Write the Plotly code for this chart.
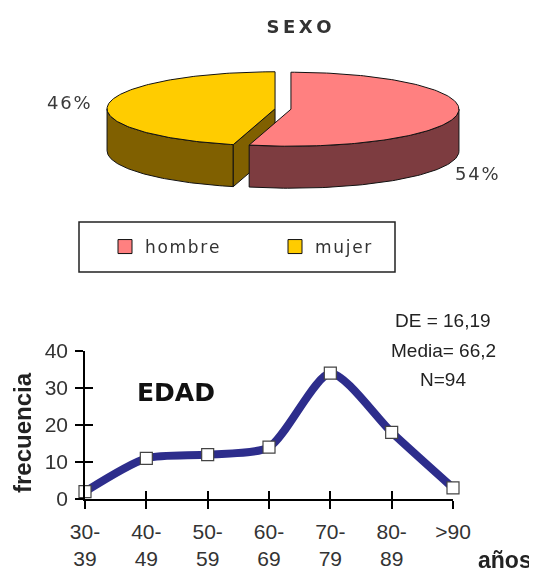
import numpy as np
import plotly.graph_objects as go

W, H = 537, 574
OFF = 8                      # the page body margin: the figure starts 8 px in
FW, FH = W - OFF, H - OFF

# ---------------- data ----------------
sexo_labels = ["hombre", "mujer"]
sexo_pct = [54, 46]
sexo_top_colors = ["#FF8080", "#FFCC00"]
sexo_side_colors = ["#7D3C40", "#806000"]

edad_cats = ["30-<br>39", "40-<br>49", "50-<br>59", "60-<br>69", "70-<br>79", "80-<br>89", ">90"]
edad_freq = [2, 11, 12, 14, 34, 18, 3]
y_ticks = [0, 10, 20, 30, 40]
stats_lines = ["DE = 16,19", "Media= 66,2", "N=94"]


def px(x):
    return (x - OFF) / FW


def py(y):
    return 1 - (y - OFF) / FH


# ---------------- pie geometry (page-pixel units on a hidden full-page axis) ----------------
CX, CY, A, B, DEPTH, EXPL = 283, 109, 168, 37, 42, 8


def rim(t_deg, ox, oy, dz=0.0):
    t = np.radians(t_deg)
    return ox + A * np.sin(t), oy - B * np.cos(t) + dz


def spaced(s, sep="\u200a"):
    return sep.join(list(s))


slices = []
start = 0.0
for lab, pct, ct, cs in zip(sexo_labels, sexo_pct, sexo_top_colors, sexo_side_colors):
    t1, t2 = start, start + pct / 100 * 360
    mid = np.radians((t1 + t2) / 2)
    ox = CX + EXPL * np.sin(mid)
    oy = CY - EXPL * np.cos(mid) * B / A
    slices.append(dict(lab=lab, t1=t1, t2=t2, ox=ox, oy=oy, ct=ct, cs=cs))
    start = t2

fig = go.Figure()
OUT = dict(color="#111111", width=1)


def poly(xs, ys, color):
    fig.add_trace(go.Scatter(x=xs, y=ys, mode="lines", fill="toself", fillcolor=color,
                             line=OUT, xaxis="x3", yaxis="y3", showlegend=False,
                             hoverinfo="skip"))


# sides and cut faces (left slice first so the right one overlaps it)
for s in sorted(slices, key=lambda d: d["ox"]):
    lo, hi = max(s["t1"], 90), min(s["t2"], 270)
    if lo < hi:
        ts = np.linspace(lo, hi, 80)
        xt, yt = rim(ts, s["ox"], s["oy"])
        xb, yb = rim(ts[::-1], s["ox"], s["oy"], DEPTH)
        poly(list(xt) + list(xb) + [xt[0]], list(yt) + list(yb) + [yt[0]], s["cs"])
    for t, visible in ((s["t1"], np.sin(np.radians(s["t1"])) < -1e-6),
                       (s["t2"], np.sin(np.radians(s["t2"])) > 1e-6)):
        if visible and 0 < t < 360:
            rx, ry = rim(t, s["ox"], s["oy"])
            xs = [s["ox"], rx, rx, s["ox"], s["ox"]]
            ys = [s["oy"], ry, ry + DEPTH, s["oy"] + DEPTH, s["oy"]]
            poly(xs, ys, s["cs"])

# top faces
for s in slices:
    ts = np.linspace(s["t1"], s["t2"], 160)
    xr, yr = rim(ts, s["ox"], s["oy"])
    poly([s["ox"]] + list(xr) + [s["ox"]], [s["oy"]] + list(yr) + [s["oy"]], s["ct"])

# legend entries
for lab, ct in zip(sexo_labels, sexo_top_colors):
    fig.add_trace(go.Scatter(x=[None], y=[None], mode="markers", name=spaced(lab),
                             marker=dict(symbol="square", size=14, color=ct,
                                         line=dict(color="#111111", width=1)),
                             xaxis="x3", yaxis="y3", showlegend=True))

# ---------------- EDAD line chart ----------------
fig.add_trace(go.Scatter(x=edad_cats, y=edad_freq, mode="lines+markers",
                         line=dict(color="#2D2D8C", width=8, shape="spline", smoothing=0.7),
                         marker=dict(symbol="square", size=12, color="white",
                                     line=dict(color="#444444", width=1.2)),
                         cliponaxis=False, showlegend=False, xaxis="x", yaxis="y"))
fig.add_trace(go.Scatter(x=edad_cats, y=edad_freq, mode="markers", opacity=0,
                         showlegend=False, hoverinfo="skip", xaxis="x2", yaxis="y2"))

TICKFONT = dict(family="Liberation Sans, Arial, sans-serif", size=21, color="#333333")

fig.update_layout(
    width=FW, height=FH,
    margin=dict(l=0, r=0, t=0, b=0),
    paper_bgcolor="white", plot_bgcolor="rgba(0,0,0,0)",
    title=dict(text="<b>" + spaced("SEXO", "\u2009") + "</b>", x=px(299), y=py(27),
               xanchor="center", yanchor="middle",
               font=dict(family="DejaVu Sans", size=18, color="#333333")),
    xaxis=dict(domain=[px(85), px(453)], type="category", range=[0, 6], anchor="y",
               showline=True, linecolor="black", linewidth=1.5,
               ticks="outside", ticklen=8, tickwidth=1.5, tickcolor="black",
               tickfont=TICKFONT, ticklabelstandoff=5,
               showgrid=False, zeroline=False, fixedrange=True, automargin=False),
    yaxis=dict(domain=[py(499), py(351)], range=[0, 40], tickvals=y_ticks, anchor="x",
               showline=True, linecolor="black", linewidth=1.5,
               ticks="outside", ticklen=8, tickwidth=1.5, tickcolor="black",
               tickfont=TICKFONT, ticklabelstandoff=3,
               showgrid=False, zeroline=False, fixedrange=True, automargin=False),
    xaxis2=dict(overlaying="x", type="category", range=[0, 6], anchor="y2",
                ticks="inside", ticklen=8, tickwidth=1.5, tickcolor="black",
                showticklabels=False, showline=False, showgrid=False, zeroline=False,
                fixedrange=True),
    yaxis2=dict(overlaying="y", range=[0, 40], tickvals=y_ticks, anchor="x2",
                ticks="inside", ticklen=8, tickwidth=1.5, tickcolor="black",
                showticklabels=False, showline=False, showgrid=False, zeroline=False,
                fixedrange=True),
    xaxis3=dict(domain=[0, 1], range=[OFF, W], anchor="y3", visible=False, fixedrange=True),
    yaxis3=dict(domain=[0, 1], range=[H, OFF], anchor="x3", visible=False, fixedrange=True),
    legend=dict(orientation="h", x=px(105), y=py(247), xanchor="left", yanchor="middle",
                bgcolor="rgba(0,0,0,0)", borderwidth=0,
                entrywidth=125, entrywidthmode="pixels",
                font=dict(family="DejaVu Sans", size=17, color="#333333")),
    shapes=[dict(type="rect", xref="paper", yref="paper",
                 x0=px(79), x1=px(395), y0=py(272), y1=py(222),
                 line=dict(color="#222222", width=1.5), fillcolor="rgba(0,0,0,0)")],
    showlegend=True,
)

ann = []
ann.append(dict(text=spaced(f"{sexo_pct[1]}%"), x=px(69), y=py(103)))
ann.append(dict(text=spaced(f"{sexo_pct[0]}%"), x=px(477), y=py(173)))
for a in ann:
    a.update(xref="paper", yref="paper", showarrow=False, xanchor="center", yanchor="middle",
             font=dict(family="DejaVu Sans", size=18, color="#3A3A3A"))

ann.append(dict(text="<b>frecuencia</b>", x=px(22), y=py(433), xref="paper", yref="paper",
                showarrow=False, textangle=-90, xanchor="center", yanchor="middle",
                font=dict(family="Liberation Sans", size=24, color="#222222")))
ann.append(dict(text="<b>EDAD</b>", x=px(176), y=py(393), xref="paper", yref="paper",
                showarrow=False, xanchor="center", yanchor="middle",
                font=dict(family="DejaVu Sans", size=25, color="#111111")))
for txt, yy in zip(stats_lines, [320, 350, 379]):
    ann.append(dict(text=txt, x=px(443), y=py(yy), xref="paper", yref="paper",
                    showarrow=False, xanchor="center", yanchor="middle",
                    font=dict(family="Liberation Sans, Arial, sans-serif",
                              size=19, color="#222222")))
ann.append(dict(text="<b>años</b>", x=px(505), y=py(560), xref="paper", yref="paper",
                showarrow=False, xanchor="center", yanchor="middle",
                font=dict(family="Liberation Sans", size=23, color="#222222")))
fig.update_layout(annotations=ann)

fig.write_html("out.html")
